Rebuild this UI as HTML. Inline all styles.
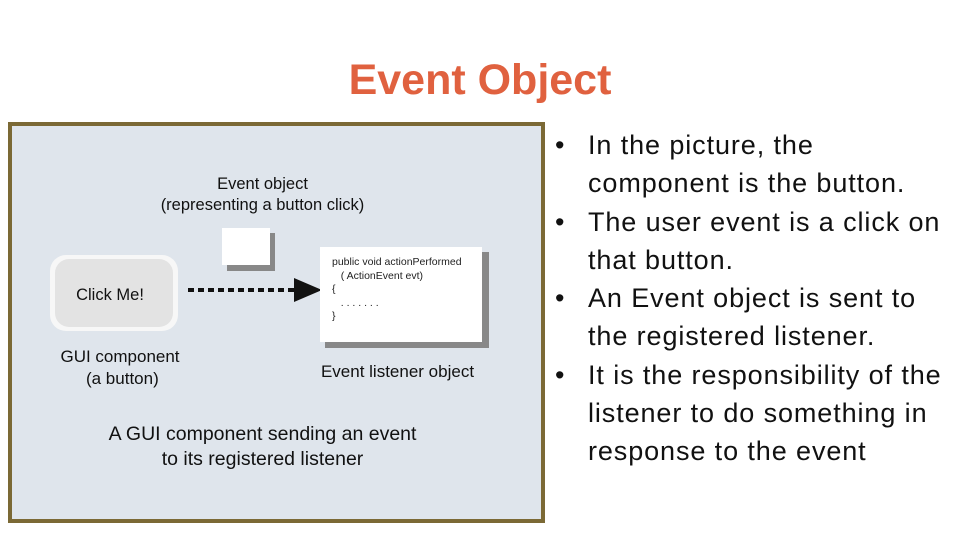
<!DOCTYPE html>
<html><head><style>
body{margin:0;width:960px;height:540px;background:#fff;position:relative;overflow:hidden;font-family:"Liberation Sans",sans-serif}
.a{position:absolute}
h1{position:absolute;left:0;width:960px;top:56px;margin:0;text-align:center;color:#e0613f;font-size:43px;font-weight:bold}
.frame{left:8px;top:122px;width:529px;height:393px;border:4px solid #7b6935;background:#dfe5ec}
.t{color:#111;font-size:16px;text-align:center}
ul{position:absolute;left:555px;top:126px;margin:0;padding:0;list-style:none;font-size:27px;letter-spacing:0.9px;line-height:38.3px;color:#111;white-space:nowrap}
li{position:relative;padding-left:33px}
li:before{content:"•";position:absolute;left:0}
</style></head><body>
<h1>Event Object</h1>
<div class="a frame"></div>
<div class="a t" style="left:130px;top:174px;width:265px;line-height:21px;font-size:16.5px">Event object<br>(representing a button click)</div>
<div class="a" style="left:227px;top:233px;width:48px;height:38px;background:#888"></div>
<div class="a" style="left:222px;top:228px;width:48px;height:37px;background:#fff"></div>
<div class="a" style="left:50px;top:255px;width:128px;height:76px;border-radius:16px;background:#f7f7f7"></div>
<div class="a" style="left:55px;top:259px;width:118px;height:68px;border-radius:14px;background:#e3e3e3"></div>
<div class="a t" style="left:55px;top:286px;width:110px;font-size:16.5px">Click Me!</div>
<div class="a t" style="left:45px;top:346px;width:150px;line-height:22px;font-size:17px">GUI component<br>&nbsp;(a button)</div>
<svg class="a" style="left:180px;top:275px" width="150" height="30"><line x1="8" y1="15" x2="118" y2="15" stroke="#111" stroke-width="4" stroke-dasharray="6,4"/><polygon points="114,3 142,15 114,27" fill="#111"/></svg>
<div class="a" style="left:325px;top:252px;width:164px;height:96px;background:#888"></div>
<div class="a" style="left:320px;top:247px;width:162px;height:95px;background:#fff"></div>
<div class="a" style="left:332px;top:256px;font-size:10.5px;line-height:13.5px;color:#222">public void actionPerformed<br>&nbsp;&nbsp;&nbsp;( ActionEvent evt)<br>{<br>&nbsp;&nbsp;&nbsp;. . . . . . .<br>}</div>
<div class="a t" style="left:300px;top:362px;width:195px;font-size:17px">Event listener object</div>
<div class="a t" style="left:60px;top:422px;width:405px;font-size:19.5px;line-height:25px">A GUI component sending an event<br>to its registered listener</div>
<ul>
<li>In the picture, the<br>component is the button.</li>
<li>The user event is a click on<br>that button.</li>
<li>An Event object is sent to<br>the registered listener.</li>
<li>It is the responsibility of the<br>listener to do something in<br>response to the event</li>
</ul>
</body></html>
